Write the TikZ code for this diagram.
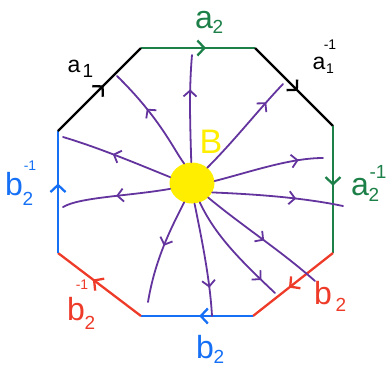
\documentclass[tikz,border=0pt]{standalone}
\usepackage{fontspec}
\setmainfont{Liberation Sans}
\usetikzlibrary{arrows.meta,decorations.markings,shapes.geometric}
\definecolor{hgreen}{RGB}{28,128,72}
\definecolor{hblue}{RGB}{22,112,245}
\definecolor{hred}{RGB}{238,58,40}
\definecolor{hyellow}{RGB}{255,238,0}
\definecolor{hpurple}{RGB}{100,52,158}
\begin{document}
\begin{tikzpicture}[x=1pt,y=-1pt,
  edge/.style={line width=2.3pt},
  marr/.style={postaction={decorate},decoration={markings,mark=at position #1 with {\arrow{Straight Barb[length=7pt,width=15pt]}}}},
  flow/.style={hpurple,line width=1.8pt,line cap=round,postaction={decorate},decoration={markings,mark=at position #1 with {\arrow{Straight Barb[length=6pt,width=13pt]}}}},
  lbl/.style={inner sep=0pt,font=\fontsize{32}{34}\selectfont},
  slbl/.style={inner sep=0pt,font=\fontsize{23}{25}\selectfont},
  scr/.style={inner sep=0pt,font=\fontsize{19}{21}\selectfont},
  sscr/.style={inner sep=0pt,font=\fontsize{14}{16}\selectfont}]
\useasboundingbox (0,0) rectangle (386,373);
% octagon vertices
\coordinate (v1) at (141,48);
\coordinate (v2) at (255,48);
\coordinate (v3) at (333,126);
\coordinate (v4) at (333,253);
\coordinate (v5) at (253,316);
\coordinate (v6) at (141,316);
\coordinate (v7) at (58,253);
\coordinate (v8) at (58,131);
% edges
\draw[edge,hgreen,marr=0.57] (v1) -- (v2);
\draw[edge,black,marr=0.55] (v2) -- (v3);
\draw[edge,hgreen,marr=0.47] (v3) -- (v4);
\draw[edge,hred,marr=0.55] (v4) -- (v5);
\draw[edge,hblue,marr=0.48] (v5) -- (v6);
\draw[edge,hred,marr=0.58] (v6) -- (v7);
\draw[edge,hblue,marr=0.57] (v7) -- (v8);
\draw[edge,black,marr=0.55] (v8) -- (v1);
% base point
\node[ellipse,fill=hyellow,minimum width=45pt,minimum height=41pt,inner sep=0pt] (blob) at (192,183) {};
\node[inner sep=0pt,text=hyellow,font=\fontsize{34}{36}\selectfont] (B) at (211,142) {B};
% free ends of the flow lines
\coordinate (e1) at (117,76);
\coordinate (e2) at (192,55);
\coordinate (e3) at (283,84);
\coordinate (e4) at (63,137);
\coordinate (e5) at (63,207);
\coordinate (e6) at (323,158);
\coordinate (e7) at (343,206);
\coordinate (e8) at (315,281);
\coordinate (e9) at (275,293);
\coordinate (e10) at (212,316);
\coordinate (e11) at (148,302);
% flow lines
\draw[flow=0.6] (blob.112) .. controls (174,150) and (160,118) .. (e1);
\draw[flow=0.68] (blob.92) .. controls (190,120) and (189,90) .. (e2);
\draw[flow=0.78] (blob.45) .. controls (235,140) and (260,108) .. (e3);
\draw[flow=0.54] (blob.165) .. controls (140,165) and (100,148) .. (e4);
\draw[flow=0.5] (blob.195) .. controls (130,196) and (80,197) .. (e5);
\draw[flow=0.78] (blob.5) .. controls (250,172) and (290,158) .. (e6);
\draw[flow=0.64] (blob.335) .. controls (250,194) and (300,197) .. (e7);
\draw[flow=0.52] (blob.318) .. controls (245,228) and (280,250) .. (e8);
\draw[flow=0.84] (blob.292) .. controls (215,235) and (240,260) .. (e9);
\draw[flow=0.75] (blob.277) .. controls (202,240) and (210,280) .. (e10);
\draw[flow=0.45] (blob.248) .. controls (170,230) and (155,260) .. (e11);
% labels
\node[slbl] (la1) at (74,66) {a};
\node[scr] (la1s) at (88,71) {1};
\node[lbl,text=hgreen] (la2) at (204,20) {a};
\node[scr,text=hgreen] (la2s) at (218,27) {2};
\node[slbl] (la1i) at (319,63) {a};
\node[sscr] (la1is) at (330,69) {1};
\node[sscr] (la1ip) at (330,45) {-1};
\node[lbl,text=hblue] (lb2i) at (14,184) {b};
\node[scr,text=hblue] (lb2is) at (28,199) {2};
\node[sscr,text=hblue] (lb2ip) at (30,166) {-1};
\node[lbl,text=hgreen] (la2i) at (360,187) {a};
\node[scr,text=hgreen] (la2is) at (374,195) {2};
\node[scr,text=hgreen] (la2ip) at (378,172) {-1};
\node[lbl,text=hred] (lrb2i) at (76,309) {b};
\node[scr,text=hred] (lrb2is) at (90,323) {2};
\node[sscr,text=hred] (lrb2ip) at (82,285) {-1};
\node[lbl,text=hred] (lrb2) at (323,293) {b};
\node[scr,text=hred] (lrb2s) at (341,305) {2};
\node[lbl,text=hblue] (lbb2) at (205,347) {b};
\node[scr,text=hblue] (lbb2s) at (219,357) {2};
\end{tikzpicture}
\end{document}
